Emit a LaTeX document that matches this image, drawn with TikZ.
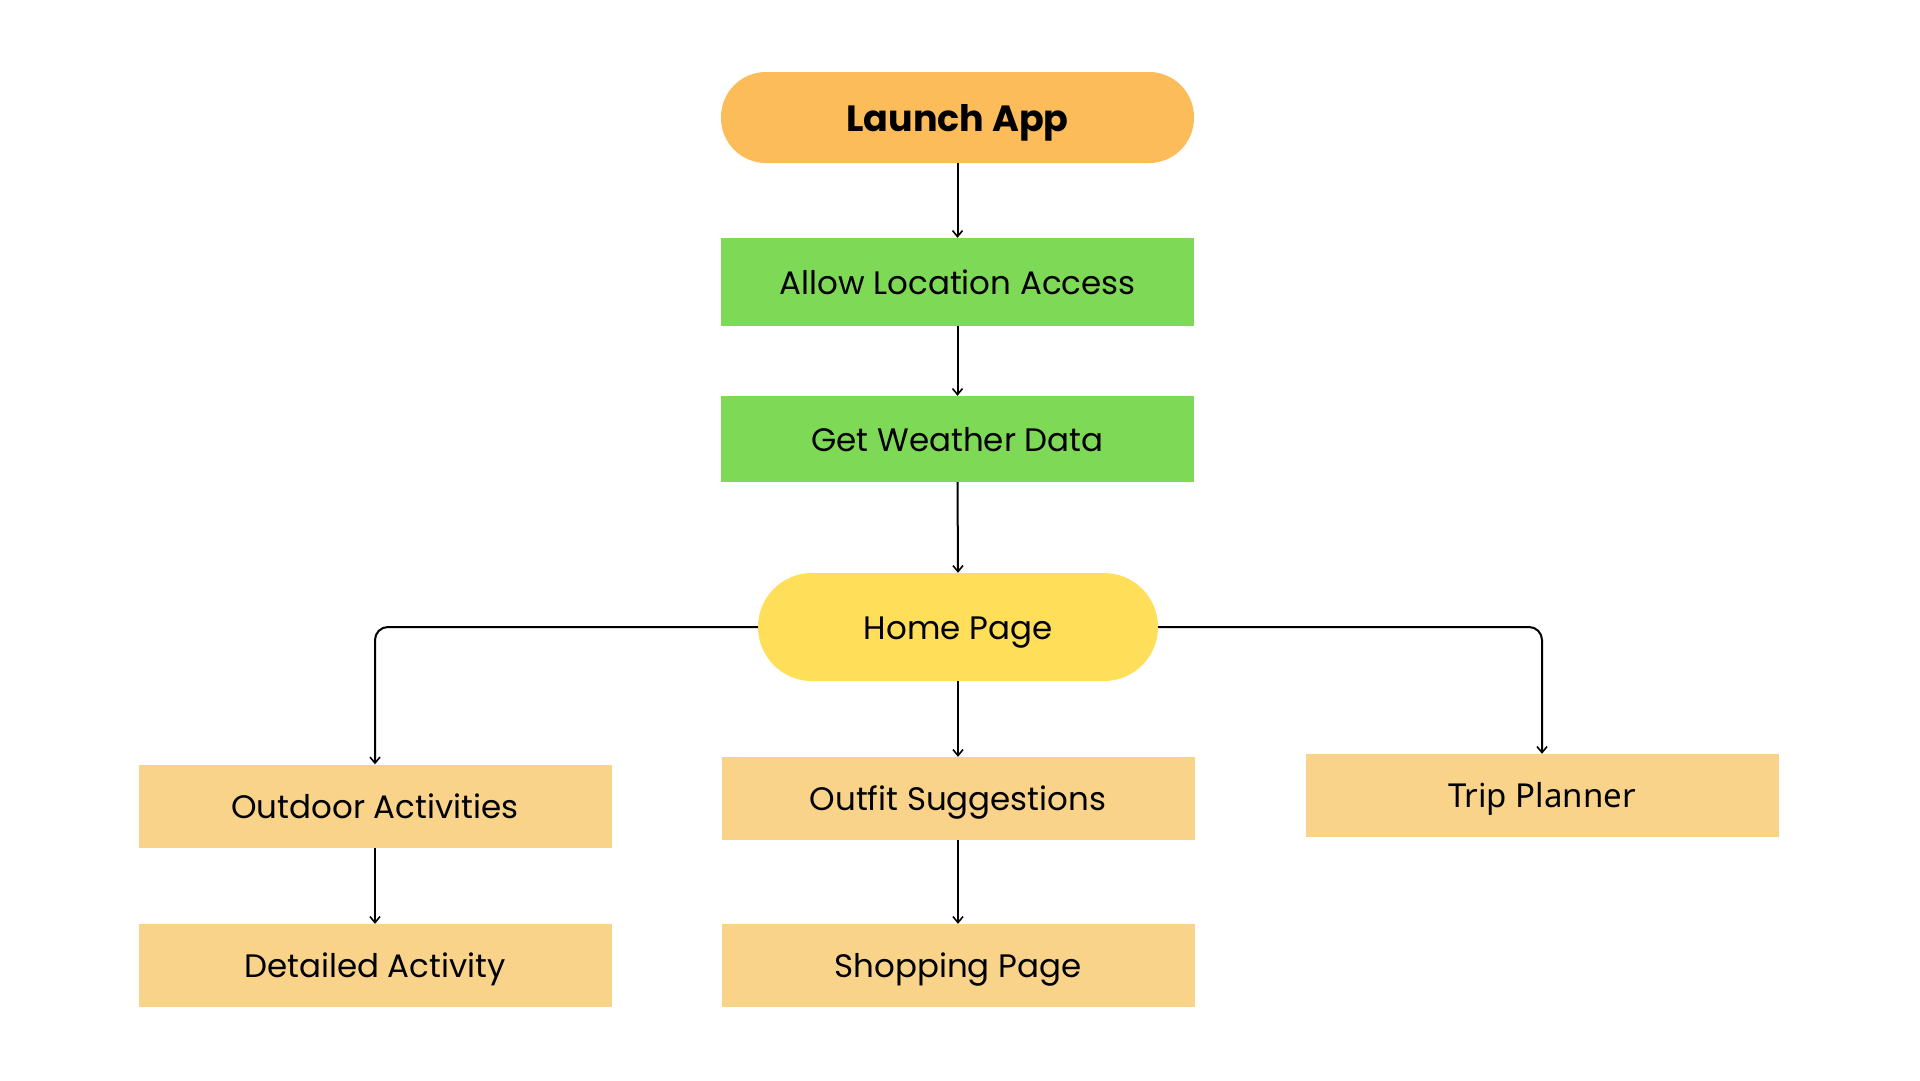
\documentclass[tikz,border=0pt]{standalone}
\usepackage{fontspec}
\setmainfont{Poppins}
\newfontfamily\plannerfont{Noto Sans}
\usetikzlibrary{arrows.meta,positioning}
\definecolor{launchcol}{HTML}{FDBC5A}
\definecolor{greencol}{HTML}{7ED957}
\definecolor{homecol}{HTML}{FFDE59}
\definecolor{pagecol}{HTML}{F9D38A}
\tikzset{
  x=1pt, y=-1pt,
  label text/.style={text height=24pt, text depth=0pt},
  box/.style={rectangle, minimum width=473pt, minimum height=84pt, inner sep=0pt,
    label text, font=\fontsize{32.5}{38}\selectfont},
  greenbox/.style={box, fill=greencol},
  pagebox/.style={box, fill=pagecol},
  pill/.style={rectangle, rounded corners=#1, inner sep=0pt, label text,
    font=\fontsize{32.5}{38}\selectfont},
  link/.style={draw=black, line width=2pt, -{Straight Barb[length=6pt,width=10pt,line width=1.6pt]}},
}
\begin{document}
\begin{tikzpicture}
\useasboundingbox (0,0) rectangle (1920,1080);
\fill[white] (0,0) rectangle (1920,1080);

\node[pill=45pt, fill=launchcol, minimum width=473pt, minimum height=91pt, text height=27pt,
      font=\fontsize{36.5}{44}\selectfont\bfseries] (launch) at (957.5,117.5) {Launch App};
\node[greenbox, minimum height=88pt] (allow) at (957.5,282) {Allow Location Access};
\node[greenbox, minimum height=86pt] (weather) at (957.5,439) {Get Weather Data};
\node[pill=54pt, fill=homecol, minimum width=400pt, minimum height=108pt] (home) at (958,627) {Home Page};

\node[pagebox, minimum height=83pt] (outdoor) at (375,806) {Outdoor Activities};
\node[pagebox, minimum height=83pt] (detail) at (375,965.5) {Detailed Activity};
\node[pagebox, minimum height=83pt] (outfit) at (958,798.5) {Outfit Suggestions};
\node[pagebox, minimum height=83pt] (shop) at (958,965.5) {Shopping Page};
\node[pagebox, minimum height=83pt, text height=24pt, font=\fontsize{33}{40}\plannerfont] (trip) at (1542,795.5) {Trip Planner};

\draw[link] (launch.south) -- (allow.north);
\draw[link] (allow.south) -- (weather.north);
\draw[link] (weather.south) -- (home.north);
\draw[link] (home.south) -- (outfit.north);
\draw[link] (outdoor.south) -- (detail.north);
\draw[link] (outfit.south) -- (shop.north);
\draw[link, rounded corners=13pt] (home.west) -| (outdoor.north);
\draw[link, rounded corners=13pt] (home.east) -| (trip.north);
\end{tikzpicture}
\end{document}
